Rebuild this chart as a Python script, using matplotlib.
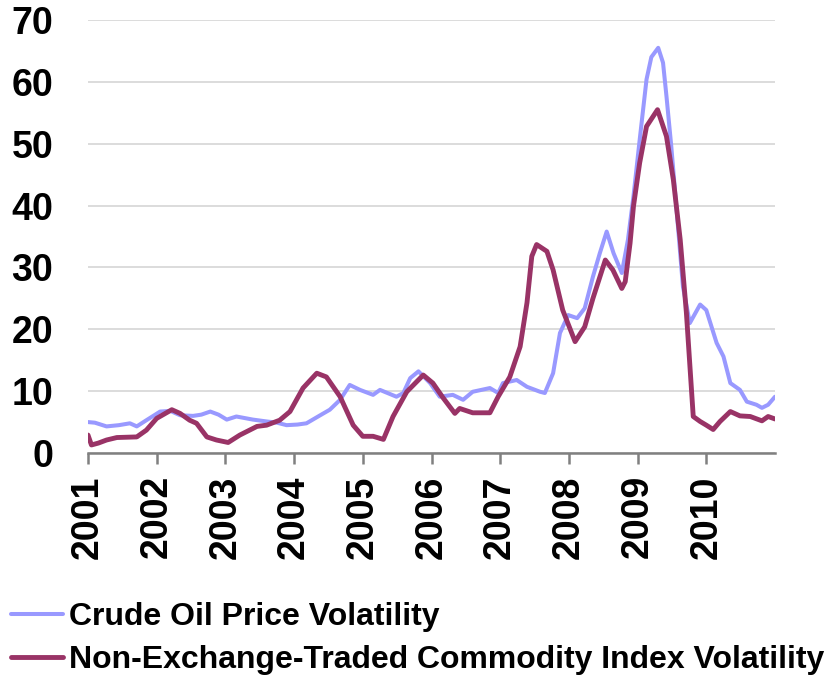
import matplotlib
matplotlib.use("Agg")
import matplotlib.pyplot as plt

# ---- data ----
oil_x = [2001.00, 2001.10, 2001.27, 2001.45, 2001.61, 2001.71, 2001.85, 2002.05, 2002.20, 2002.34,
         2002.53, 2002.65, 2002.78, 2002.90, 2003.02, 2003.16, 2003.40, 2003.60, 2003.75, 2003.89,
         2004.05, 2004.18, 2004.38, 2004.52, 2004.67, 2004.81, 2004.96, 2005.15, 2005.25, 2005.49,
         2005.59, 2005.69, 2005.81, 2005.98, 2006.12, 2006.31, 2006.46, 2006.60, 2006.85, 2006.97,
         2007.04, 2007.24, 2007.39, 2007.58, 2007.65, 2007.77, 2007.87, 2007.99, 2008.12, 2008.23,
         2008.35, 2008.45, 2008.55, 2008.65, 2008.77, 2008.86, 2008.94, 2009.03, 2009.13, 2009.20,
         2009.30, 2009.37, 2009.42, 2009.49, 2009.57, 2009.66, 2009.76, 2009.91, 2010.00, 2010.15,
         2010.25, 2010.35, 2010.49, 2010.59, 2010.73, 2010.81, 2010.90, 2011.00]
oil_y = [5.0, 4.9, 4.3, 4.5, 4.8, 4.3, 5.3, 6.7, 6.8, 6.1,
         6.0, 6.2, 6.7, 6.2, 5.4, 5.9, 5.4, 5.1, 4.9, 4.5,
         4.6, 4.8, 6.1, 7.0, 8.6, 11.0, 10.2, 9.4, 10.2, 9.1,
         9.7, 12.1, 13.2, 11.3, 9.1, 9.4, 8.6, 9.9, 10.5, 9.7,
         11.3, 11.8, 10.7, 9.9, 9.7, 12.9, 19.4, 22.3, 21.8, 23.4,
         28.5, 32.3, 35.8, 32.3, 29.1, 34.5, 41.5, 50.6, 60.4, 64.0,
         65.5, 63.1, 57.7, 49.6, 39.0, 26.9, 21.0, 24.0, 23.1, 17.8,
         15.6, 11.3, 10.2, 8.3, 7.8, 7.3, 7.8, 9.1]

idx_x = [2001.00, 2001.05, 2001.15, 2001.27, 2001.42, 2001.71, 2001.85, 2002.00, 2002.22, 2002.34,
         2002.48, 2002.58, 2002.73, 2002.87, 2003.04, 2003.21, 2003.46, 2003.60, 2003.79, 2003.94,
         2004.13, 2004.33, 2004.47, 2004.67, 2004.86, 2005.00, 2005.15, 2005.30, 2005.44, 2005.64,
         2005.88, 2006.02, 2006.17, 2006.34, 2006.41, 2006.60, 2006.85, 2006.97, 2007.14, 2007.29,
         2007.39, 2007.46, 2007.53, 2007.68, 2007.77, 2007.91, 2008.09, 2008.23, 2008.35, 2008.53,
         2008.64, 2008.77, 2008.82, 2008.89, 2008.94, 2009.03, 2009.13, 2009.29, 2009.42, 2009.52,
         2009.62, 2009.71, 2009.81, 2009.91, 2010.00, 2010.10, 2010.20, 2010.35, 2010.49, 2010.64,
         2010.81, 2010.90, 2011.00]
idx_y = [2.9, 1.3, 1.6, 2.1, 2.5, 2.6, 3.7, 5.6, 7.0, 6.4,
         5.3, 4.8, 2.6, 2.1, 1.7, 2.9, 4.3, 4.5, 5.3, 6.7,
         10.5, 12.9, 12.3, 9.1, 4.5, 2.7, 2.7, 2.2, 5.9, 9.9,
         12.6, 11.3, 8.9, 6.4, 7.2, 6.5, 6.5, 9.1, 12.3, 17.2,
         24.3, 31.8, 33.7, 32.6, 29.6, 23.1, 18.0, 20.4, 25.0, 31.2,
         29.6, 26.6, 27.7, 33.9, 39.9, 46.9, 52.8, 55.5, 51.2, 44.2,
         34.5, 22.7, 5.9, 5.1, 4.5, 3.8, 5.1, 6.7, 6.0, 5.9,
         5.2, 5.9, 5.5]

year_ticks = list(range(2001, 2011))
y_ticks = [0, 10, 20, 30, 40, 50, 60, 70]
series_names = ["Crude Oil Price Volatility",
                "Non-Exchange-Traded Commodity Index Volatility"]

# ---- figure ----
plt.rcParams['font.family'] = ['Liberation Sans', 'DejaVu Sans']
fig = plt.figure(figsize=(8.28, 6.78), dpi=100)
ax = fig.add_axes([88/828, 1-453/678, (775-88)/828, (453-20)/678])

l1, = ax.plot(oil_x, oil_y, color='#9999FF', lw=2.9, solid_joinstyle='round',
              solid_capstyle='round', zorder=3)
l2, = ax.plot(idx_x, idx_y, color='#993366', lw=3.5, solid_joinstyle='round',
              solid_capstyle='round', zorder=4)

ax.set_xlim(2001, 2011)
ax.set_ylim(0, 70)
ax.set_yticks(y_ticks)
ax.set_xticks(year_ticks)
ax.set_xticklabels([str(y) for y in year_ticks], rotation=90, fontsize=27, fontweight='bold')
ax.set_yticklabels([str(v) for v in y_ticks], fontsize=27, fontweight='bold')
ax.yaxis.grid(True, color='#D9D9D9', lw=1.3)
ax.set_axisbelow(True)
for s in ['top', 'right', 'left']:
    ax.spines[s].set_visible(False)
ax.spines['bottom'].set_color('#808080')
ax.spines['bottom'].set_linewidth(1.8)
ax.tick_params(axis='y', length=0, pad=25)
ax.tick_params(axis='x', length=8, width=1.8, color='#808080', direction='out', pad=8)

fig.legend([l1, l2], series_names, loc='upper left', bbox_to_anchor=(0.013, 1-602/678),
           frameon=False, prop={'weight': 'bold', 'size': 23}, handlelength=1.65,
           handletextpad=0.16, borderpad=0, borderaxespad=0, labelspacing=0.42)

fig.savefig('out.png', dpi=100)
